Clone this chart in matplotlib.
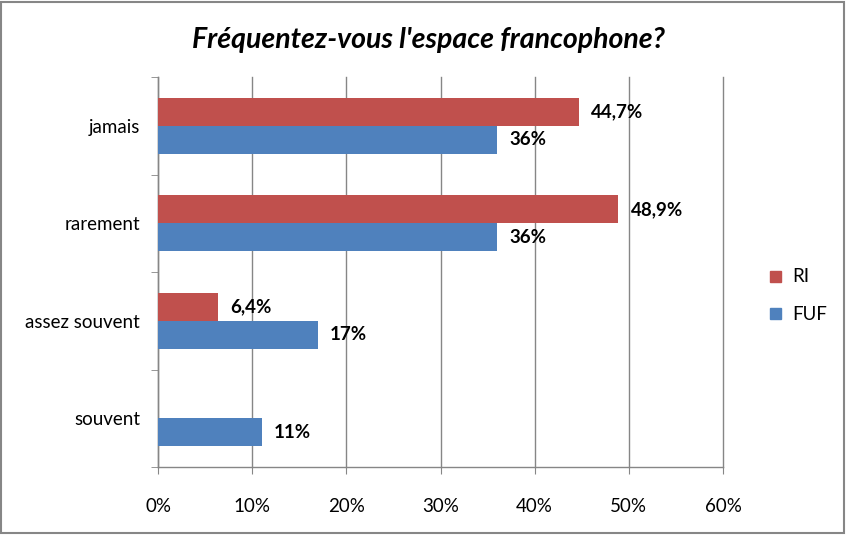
import matplotlib
matplotlib.use("Agg")
import matplotlib.pyplot as plt
import numpy as np
from matplotlib.patches import Rectangle

categories = ["jamais", "rarement", "assez souvent", "souvent"]
ri_values = [44.7, 48.9, 6.4, None]
fuf_values = [36, 36, 17, 11]
ri_labels = ["44,7%", "48,9%", "6,4%", None]
fuf_labels = ["36%", "36%", "17%", "11%"]
xticks = [0, 10, 20, 30, 40, 50, 60]
xtick_labels = ["0%", "10%", "20%", "30%", "40%", "50%", "60%"]

plt.rcParams['font.family'] = ['Lato', 'DejaVu Sans']

fig = plt.figure(figsize=(8.46, 5.35), dpi=100)
ax = fig.add_axes([158/846, 1-467/535, (723-158)/846, (467-77)/535])

red = "#C0504D"
blue = "#4F81BD"
grid = "#868686"
n = len(categories)
ypos = np.arange(n)[::-1].astype(float)
h = 0.286

for i, (y, r, f) in enumerate(zip(ypos, ri_values, fuf_values)):
    if r is not None:
        ax.barh(y + h/2, r, height=h, color=red, zorder=3)
        ax.annotate(ri_labels[i], (r, y + h/2), xytext=(12, 0), textcoords="offset pixels",
                    va="center", ha="left", fontsize=13.5, fontweight="bold")
    ax.barh(y - h/2, f, height=h, color=blue, zorder=3)
    ax.annotate(fuf_labels[i], (f, y - h/2), xytext=(12, 0), textcoords="offset pixels",
                va="center", ha="left", fontsize=13.5, fontweight="bold")

ax.set_xlim(0, 60)
ax.set_ylim(-0.5, n - 0.5)
ax.set_xticks(xticks)
ax.set_xticklabels(xtick_labels, fontsize=13.5)
ax.set_yticks(ypos)
ax.set_yticklabels(categories, fontsize=13.5)
ax.set_yticks(np.arange(n + 1) - 0.5, minor=True)
ax.tick_params(axis='y', which='major', length=0, pad=13)
ax.tick_params(axis='y', which='minor', length=5, color=grid, direction='out')
ax.tick_params(axis='x', length=5, color=grid, pad=17)
ax.grid(axis='x', color=grid, linewidth=1, zorder=0)
for gl in ax.get_xgridlines():
    gl.set_clip_on(False)
for s in ['top', 'right']:
    ax.spines[s].set_visible(False)
for s in ['left', 'bottom']:
    ax.spines[s].set_color(grid)
    ax.spines[s].set_linewidth(1)

fig.text(428/846, 1-40/535, "Fréquentez-vous l'espace francophone?", ha="center", va="center",
         fontsize=20.5, fontweight="bold", fontstyle="italic")

fig.patches.append(Rectangle((770/846, 1-282/535), 11/846, 11/535, transform=fig.transFigure, color=red))
fig.patches.append(Rectangle((770/846, 1-319/535), 11/846, 11/535, transform=fig.transFigure, color=blue))
fig.text(792/846, 1-277/535, "RI", va="center", ha="left", fontsize=13.5)
fig.text(792/846, 1-314/535, "FUF", va="center", ha="left", fontsize=13.5)

border = Rectangle((1/846, 2/535), 843/846, 531/535, transform=fig.transFigure,
                   facecolor="none", edgecolor=grid, linewidth=1.5)
fig.patches.append(border)

fig.savefig("out.png", dpi=100)
